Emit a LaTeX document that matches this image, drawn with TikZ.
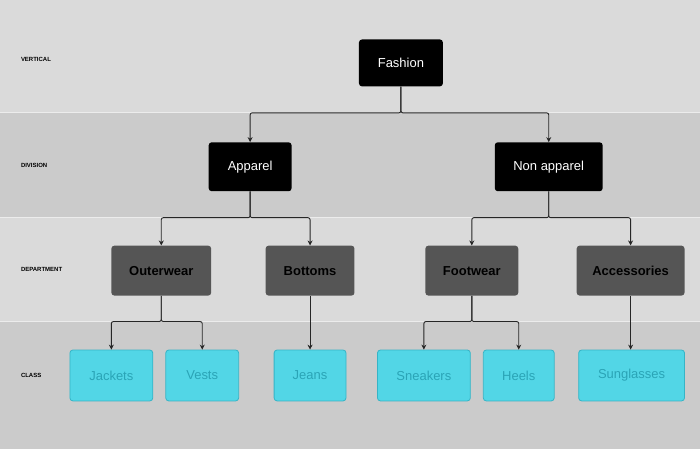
\documentclass[tikz,border=0pt]{standalone}
\usepackage{fontspec}
\setmainfont{Liberation Sans}
\usetikzlibrary{arrows.meta}
\definecolor{bandA}{HTML}{DADADA}
\definecolor{bandB}{HTML}{CBCBCB}
\definecolor{deptgray}{HTML}{555555}
\definecolor{classfill}{HTML}{52D6E6}
\definecolor{classline}{HTML}{36B4C6}
\definecolor{classtext}{HTML}{2AA4B6}
\tikzset{
	box/.style={rounded corners=3pt, minimum height=49pt, font=\fontsize{13}{15}\selectfont},
	topbox/.style={box, fill=black, text=white},
	deptbox/.style={box, fill=deptgray, text=black, font=\fontsize{13}{15}\selectfont\bfseries},
	classbox/.style={box, fill=classfill, draw=classline, line width=0.8pt, text=classtext, minimum height=51pt},
	levellabel/.style={anchor=west, font=\fontsize{6}{7}\selectfont\bfseries},
	link/.style={draw=black!85, line width=0.9pt, -{Stealth[length=5pt,width=5pt]}},
}
\begin{document}
\begin{tikzpicture}[x=1pt, y=-1pt]
	% background bands
	\fill[bandA] (0,0) rectangle (700,113);
	\fill[bandB] (0,113) rectangle (700,218);
	\fill[bandA] (0,218) rectangle (700,322);
	\fill[bandB] (0,322) rectangle (700,450);
	\foreach \y in {113,218,322}
		\draw[white!85!gray, line width=1pt] (0,\y) -- (700,\y);
	\useasboundingbox (0,0) rectangle (700,450);

	% level labels
	\node[levellabel] (lv) at (17,60) {VERTICAL};
	\node[levellabel] (ld) at (17,166) {DIVISION};
	\node[levellabel] (lp) at (17,270) {DEPARTMENT};
	\node[levellabel] (lc) at (17,376) {CLASS};

	% nodes
	\node[topbox, minimum width=84pt, minimum height=47pt] (fashion) at (401,63) {Fashion};
	\node[topbox, minimum width=83pt] (apparel) at (250,167) {Apparel};
	\node[topbox, minimum width=108pt] (nonapparel) at (549,167) {Non apparel};
	\node[deptbox, minimum width=100pt, minimum height=50pt] (outerwear) at (161,271) {Outerwear};
	\node[deptbox, minimum width=89pt, minimum height=50pt] (bottoms) at (310,271) {Bottoms};
	\node[deptbox, minimum width=93pt, minimum height=50pt] (footwear) at (472,271) {Footwear};
	\node[deptbox, minimum width=108pt, minimum height=50pt] (accessories) at (631,271) {Accessories};
	\node[classbox, minimum width=83pt] (jackets) at (111,376) {Jackets};
	\node[classbox, minimum width=73pt] (vests) at (202,376) {Vests};
	\node[classbox, minimum width=72pt] (jeans) at (310,376) {Jeans};
	\node[classbox, minimum width=93pt] (sneakers) at (424,376) {Sneakers};
	\node[classbox, minimum width=71pt] (heels) at (519,376) {Heels};
	\node[classbox, minimum width=106pt] (sunglasses) at (632,376) {Sunglasses};

	% connectors
	\draw[link, rounded corners=2pt] (fashion.south) |- (250,113) -- (apparel.north);
	\draw[link, rounded corners=2pt] (fashion.south) |- (549,113) -- (nonapparel.north);
	\draw[link, rounded corners=2pt] (apparel.south) |- (161,218) -- (outerwear.north);
	\draw[link, rounded corners=2pt] (apparel.south) |- (310,218) -- (bottoms.north);
	\draw[link, rounded corners=2pt] (nonapparel.south) |- (472,218) -- (footwear.north);
	\draw[link, rounded corners=2pt] (nonapparel.south) |- (631,218) -- (accessories.north);
	\draw[link, rounded corners=2pt] (outerwear.south) |- (111,322) -- (jackets.north);
	\draw[link, rounded corners=2pt] (outerwear.south) |- (202,322) -- (vests.north);
	\draw[link] (bottoms.south) -- (jeans.north);
	\draw[link, rounded corners=2pt] (footwear.south) |- (424,322) -- (sneakers.north);
	\draw[link, rounded corners=2pt] (footwear.south) |- (519,322) -- (heels.north);
	\draw[link] (accessories.south) -- (accessories.south |- sunglasses.north);
\end{tikzpicture}
\end{document}
